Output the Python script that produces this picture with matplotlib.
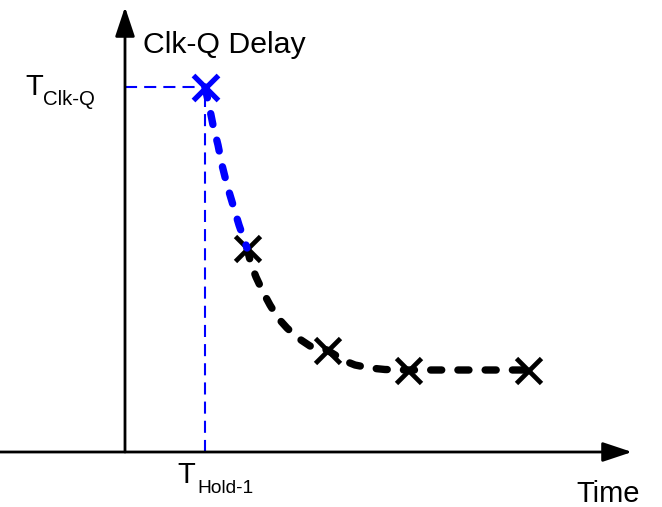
import matplotlib
matplotlib.use("Agg")
import matplotlib.pyplot as plt

plt.rcParams['font.family'] = ['Liberation Sans', 'DejaVu Sans']

# Measured Clk-Q delay samples (time, delay) relative to the axis origin
sample_time = [80, 122, 202, 283, 403]
sample_delay = [365, 204, 102, 82, 82]

# Traced delay curve: blue part (first sample down to second), black part (rest)
blue_curve_time = [80, 84, 88, 93, 97, 102, 108, 114, 122]
blue_curve_delay = [365, 347, 327, 307, 287, 267, 247, 227, 204]
black_curve_time = [122, 126, 131, 138, 145, 153, 162, 173, 185, 202,
                    220, 230, 245, 260, 283, 403]
black_curve_delay = [204, 188, 175, 160, 147, 134, 124, 114, 106, 102,
                     91, 87, 84, 82.5, 82, 82]

# Axis extents
x_min, x_max = -125, 537
y_min, y_max = -55, 452
x_arrow_tip = 507
y_arrow_tip = 445

title_text = "Clk-Q Delay"
x_label = "Time"

fig = plt.figure(figsize=(6.62, 5.07), dpi=100)
ax = fig.add_axes([0, 0, 1, 1])
ax.set_xlim(x_min, x_max)
ax.set_ylim(y_min, y_max)
ax.axis('off')

# Axes with arrowheads
arrow_style = '-|>,head_length=1.8,head_width=0.6'
ax.annotate('', xy=(0, y_arrow_tip), xytext=(0, 0),
            arrowprops=dict(arrowstyle=arrow_style, lw=2, color='black',
                            mutation_scale=10, shrinkA=0, shrinkB=0))
ax.annotate('', xy=(x_arrow_tip, 0), xytext=(x_min, 0),
            arrowprops=dict(arrowstyle=arrow_style, lw=2, color='black',
                            mutation_scale=10, shrinkA=0, shrinkB=0))

# Guide lines to the first sample
guide_kw = dict(color='#0000ff', lw=1.5, dashes=(5.8, 3.4))
ax.plot([0, sample_time[0]], [sample_delay[0], sample_delay[0]], **guide_kw)
ax.plot([sample_time[0], sample_time[0]], [0, sample_delay[0]], **guide_kw)

# Delay curve
curve_kw = dict(lw=5.3, dashes=(1.5, 2.2), dash_capstyle='round',
                solid_capstyle='round')
ax.plot(black_curve_time, black_curve_delay, color='black', **curve_kw)
ax.plot(sample_time[1:], sample_delay[1:], linestyle='none', marker='x',
        markersize=18, mew=3.4, color='black')
ax.plot(blue_curve_time, blue_curve_delay, color='#0000ff', **curve_kw)
ax.plot(sample_time[:1], sample_delay[:1], linestyle='none', marker='x',
        markersize=18, mew=3.8, color='#0000ff')

# Labels
ax.text(18, 399, title_text, fontsize=21.8, ha='left', va='baseline')
ax.text(-100, 357, "T", fontsize=21, ha='left', va='baseline')
ax.text(-82, 347, "Clk-Q", fontsize=14.7, ha='left', va='baseline')
ax.text(52, -31, "T", fontsize=21, ha='left', va='baseline')
ax.text(72, -41, "Hold-1", fontsize=13.8, ha='left', va='baseline')
ax.text(515, -50, x_label, fontsize=21, ha='right', va='baseline')

fig.savefig("out.png", dpi=100)
